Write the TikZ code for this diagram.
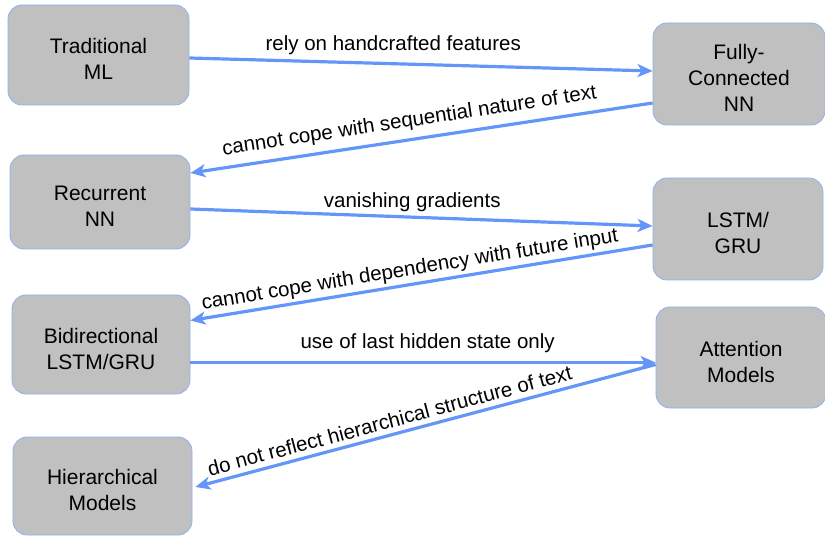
\documentclass[tikz,border=0pt]{standalone}
\usepackage{fontspec}
\setmainfont{Liberation Sans}
\usetikzlibrary{arrows.meta}
\definecolor{boxfill}{RGB}{192,192,192}
\definecolor{boxline}{RGB}{140,178,240}
\definecolor{arr}{RGB}{100,150,250}
\tikzset{
  mbox/.style={draw=boxline, line width=0.8pt, fill=boxfill, rounded corners=14pt, inner sep=0pt},
  btext/.style={label={[align=center, font=\fontsize{21}{26}\selectfont, yshift=-4pt]center:#1}},
  conn/.style={draw=arr, line width=3.2pt, -{Stealth[length=15pt,width=13pt,inset=4pt]}},
  lbl/.style={font=\fontsize{20.5}{24}\selectfont, text=black, inner sep=2pt}
}
\begin{document}
\begin{tikzpicture}[x=1pt,y=-1pt]
\useasboundingbox (0,0) rectangle (825,537);
\node[mbox, minimum width=181pt, minimum height=100pt, btext={Traditional\\ML}] (trad) at (98.5,55) {};
\node[mbox, minimum width=172pt, minimum height=102pt, btext={Fully-\\Connected\\NN}] (fc) at (739,74) {};
\node[mbox, minimum width=180pt, minimum height=94pt, btext={Recurrent\\NN}] (rec) at (100,202) {};
\node[mbox, minimum width=170pt, minimum height=102pt, btext={LSTM/\\GRU}] (lstm) at (738,229) {};
\node[mbox, minimum width=178pt, minimum height=99pt, btext={Bidirectional\\LSTM/GRU}] (bi) at (101,344.5) {};
\node[mbox, minimum width=170pt, minimum height=101pt, btext={Attention\\Models}] (att) at (741,357.5) {};
\node[mbox, minimum width=179pt, minimum height=98pt, btext={Hierarchical\\Models}] (hier) at (102.5,486) {};

\draw[conn] ([yshift=-3pt]trad.east) -- ([yshift=3pt]fc.west)
  node[lbl, pos=0.44, above=5pt] (l1) {rely on handcrafted features};
\draw[conn] ([yshift=-29pt]fc.west) -- ([yshift=29pt]rec.east)
  node[lbl, pos=0.52, sloped, above=5pt] (l2) {cannot cope with sequential nature of text};
\draw[conn] ([yshift=-7pt]rec.east) -- ([yshift=3pt]lstm.west)
  node[lbl, pos=0.48, above=2pt] (l3) {vanishing gradients};
\draw[conn] ([yshift=-16pt]lstm.west) -- ([yshift=24pt]bi.east)
  node[lbl, pos=0.52, sloped, above=1pt] (l4) {cannot cope with dependency with future input};
\draw[conn] ([yshift=-18pt]bi.east) -- ([yshift=-5pt]att.west)
  node[lbl, pos=0.51, above=6pt] (l5) {use of last hidden state only};
\draw[conn] ([yshift=-7pt]att.west) -- ([xshift=3pt,yshift=-1pt]hier.east)
  node[lbl, pos=0.57, sloped, above=3pt] (l6) {do not reflect hierarchical structure of text};
\end{tikzpicture}
\end{document}
